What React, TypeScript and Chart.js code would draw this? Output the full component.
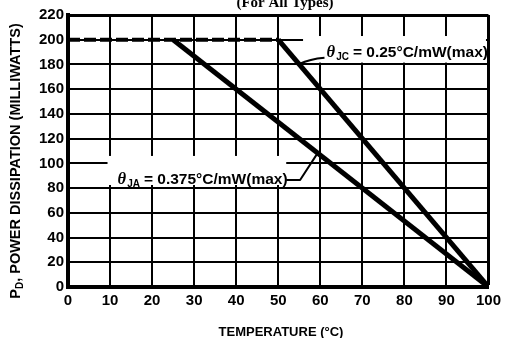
import React, { useEffect, useRef } from "react";
import { Chart, registerables } from "chart.js";

Chart.register(...registerables);

// Temperature axis (°C) and power axis (mW)
const xTicks = [0, 10, 20, 30, 40, 50, 60, 70, 80, 90, 100];
const yTicks = [0, 20, 40, 60, 80, 100, 120, 140, 160, 180, 200, 220];

// Flat (max) dissipation segment, dashed
const flatX = [0, 50];
const flatY = [200, 200];
// θJA derating line
const jaX = [25, 100];
const jaY = [200, 0];
// θJC derating line
const jcX = [50, 100];
const jcY = [200, 0];

const titleText = "(For All Types)";
const xTitle = "TEMPERATURE (°C)";
const yTitleMain = "P";
const yTitleSub = "D";
const yTitleRest = ", POWER DISSIPATION (MILLIWATTS)";
const jcLabel = "= 0.25°C/mW(max)";
const jaLabel = "= 0.375°C/mW(max)";

const toPts = (xs: number[], ys: number[]) => xs.map((x, i) => ({ x, y: ys[i] }));

const SANS = '"Liberation Sans", Arial, sans-serif';
const SERIF = '"Liberation Serif", "Times New Roman", serif';

const annotPlugin = {
  id: "annot",
  beforeDatasetsDraw(chart: any) {
    const { ctx, scales } = chart;
    const X = scales.x, Y = scales.y;
    const box = (x0: number, y0: number, x1: number, y1: number) => {
      const px0 = X.getPixelForValue(x0), px1 = X.getPixelForValue(x1);
      const py0 = Y.getPixelForValue(y0), py1 = Y.getPixelForValue(y1);
      ctx.save();
      ctx.fillStyle = "#ffffff";
      ctx.fillRect(px0, py0, px1 - px0, py1 - py0);
      ctx.restore();
    };
    box(55.9, 203, 99.4, 181.5);
    box(9.4, 106, 51.9, 82.5);
  },
  afterDatasetsDraw(chart: any) {
    const { ctx, scales } = chart;
    const X = scales.x, Y = scales.y;
    const px = (v: number) => X.getPixelForValue(v);
    const py = (v: number) => Y.getPixelForValue(v);
    ctx.save();
    ctx.strokeStyle = "#000";
    ctx.lineWidth = 2;
    ctx.lineJoin = "round";
    // JC leader
    ctx.beginPath();
    ctx.moveTo(px(55), py(180.5));
    ctx.quadraticCurveTo(px(57.5), py(184.5), px(61), py(185.5));
    ctx.stroke();
    // JA leader
    ctx.beginPath();
    ctx.moveTo(px(51.9), py(86.6));
    ctx.lineTo(px(55.2), py(86.6));
    ctx.lineTo(px(59.4), py(108.5));
    ctx.stroke();

    const drawLabel = (xv: number, yv: number, sub: string, text: string, size: number) => {
      let x = px(xv);
      const y = py(yv);
      ctx.fillStyle = "#000";
      ctx.textBaseline = "alphabetic";
      ctx.textAlign = "left";
      ctx.font = `italic bold ${size + 1}px ${SERIF}`;
      ctx.fillText("θ", x, y);
      x += ctx.measureText("θ").width + 1;
      ctx.font = `bold ${Math.round(size * 0.62)}px ${SANS}`;
      ctx.fillText(sub, x, y + 3);
      x += ctx.measureText(sub).width + 4;
      ctx.font = `bold ${size}px ${SANS}`;
      ctx.fillText(text, x, y);
    };
    drawLabel(61.5, 186, "JC", jcLabel, 15.5);
    drawLabel(11.8, 83, "JA", jaLabel, 15.5);
    ctx.restore();
  },
  afterDraw(chart: any) {
    const { ctx } = chart;
    ctx.save();
    ctx.fillStyle = "#000";
    // Title (cut at top)
    ctx.font = `bold 15px ${SERIF}`;
    ctx.textAlign = "center";
    ctx.textBaseline = "alphabetic";
    ctx.fillText(titleText, 285, 7);
    // X title
    ctx.font = `bold 13px ${SANS}`;
    ctx.fillText(xTitle, 281, 336);
    // Y title rotated
    ctx.translate(20, 161);
    ctx.rotate(-Math.PI / 2);
    ctx.textAlign = "left";
    const big = `bold 14.5px ${SANS}`;
    const small = `bold 10px ${SANS}`;
    ctx.font = big;
    const w1 = ctx.measureText(yTitleMain).width;
    const w3 = ctx.measureText(yTitleRest).width;
    ctx.font = small;
    const w2 = ctx.measureText(yTitleSub).width;
    let x = -(w1 + w2 + w3) / 2;
    ctx.font = big;
    ctx.fillText(yTitleMain, x, 0);
    x += w1;
    ctx.font = small;
    ctx.fillText(yTitleSub, x, 3);
    x += w2;
    ctx.font = big;
    ctx.fillText(yTitleRest, x, 0);
    ctx.restore();
  },
};

export default function App() {
  const ref = useRef<HTMLCanvasElement>(null);
  useEffect(() => {
    if (!ref.current) return;
    const chart = new Chart(ref.current, {
      type: "scatter",
      data: {
        datasets: [
          {
            data: toPts(flatX, flatY),
            showLine: true,
            borderColor: "#000",
            borderWidth: 4,
            borderDash: [12, 4],
            pointRadius: 0,
          },
          {
            data: toPts(jaX, jaY),
            showLine: true,
            borderColor: "#000",
            borderWidth: 5,
            pointRadius: 0,
          },
          {
            data: toPts(jcX, jcY),
            showLine: true,
            borderColor: "#000",
            borderWidth: 5,
            pointRadius: 0,
          },
        ],
      },
      options: {
        responsive: false,
        animation: false,
        layout: { padding: { left: 0, top: 15, right: 14, bottom: 0 } },
        plugins: { legend: { display: false }, tooltip: { enabled: false }, title: { display: false } },
        scales: {
          x: {
            type: "linear",
            min: xTicks[0],
            max: xTicks[xTicks.length - 1],
            afterBuildTicks: (s: any) => { s.ticks = xTicks.map((v) => ({ value: v })); },
            afterFit: (s: any) => { s.height = 51; },
            ticks: { color: "#000", font: { family: SANS, size: 15, weight: "bold" }, padding: 5, maxRotation: 0, autoSkip: false },
            grid: {
              color: "#000",
              lineWidth: (c: any) => (c.tick && c.tick.value === 100 ? 3 : 2),
              drawTicks: false,
            },
            border: { display: true, color: "#000", width: 4 },
          },
          y: {
            type: "linear",
            min: yTicks[0],
            max: yTicks[yTicks.length - 1],
            afterBuildTicks: (s: any) => { s.ticks = yTicks.map((v) => ({ value: v })); },
            afterFit: (s: any) => { s.width = 68; },
            ticks: { color: "#000", font: { family: SANS, size: 15, weight: "bold" }, padding: 4, autoSkip: false },
            grid: {
              color: "#000",
              lineWidth: (c: any) => (c.tick && c.tick.value === 220 ? 3 : 2),
              drawTicks: false,
            },
            border: { display: true, color: "#000", width: 4 },
          },
        },
      },
      plugins: [annotPlugin],
    } as any);
    return () => chart.destroy();
  }, []);
  return (
    <div style={{ position: "absolute", left: 0, top: 0, width: 506, height: 338, background: "#fff" }}>
      <canvas ref={ref} width={506} height={338} style={{ display: "block" }} />
    </div>
  );
}
